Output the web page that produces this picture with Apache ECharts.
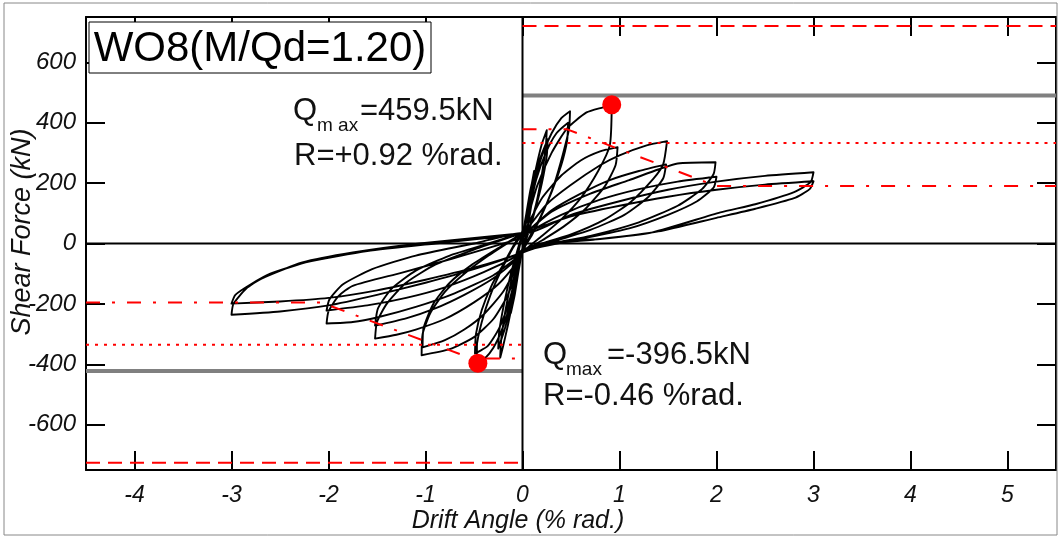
<!DOCTYPE html>
<html>
<head>
<meta charset="utf-8">
<script src="https://cdn.jsdelivr.net/npm/echarts@6/dist/echarts.min.js"></script>
<style>
  html, body { margin: 0; padding: 0; background: #fff; }
  #chart { width: 1060px; height: 537px; }
</style>
</head>
<body>
<div id="chart"></div>
<script>
// tick positions
const xTicks = [-4, -3, -2, -1, 0, 1, 2, 3, 4, 5];
const yTicks = [-600, -400, -200, 0, 200, 400, 600];

// hysteresis loops, one array per cycle [drift %, shear kN]
const cyc0125a = [[0, 0], [0.04, 90], [0.08, 170], [0.12, 240], [0.11, 180], [0.07, 90], [0.03, 20], [0, -20],
  [-0.04, -90], [-0.08, -170], [-0.12, -230], [-0.11, -170], [-0.07, -80], [-0.03, -10], [0, 30]];
const cyc0125b = [[0.04, 100], [0.08, 175], [0.12, 230], [0.11, 170], [0.07, 85], [0.03, 15], [0, -20],
  [-0.04, -85], [-0.08, -165], [-0.12, -220], [-0.11, -165], [-0.07, -75], [-0.03, -5], [0, 30]];
const cyc025a = [[0.05, 100], [0.1, 190], [0.15, 265], [0.2, 330], [0.25, 375], [0.24, 320], [0.2, 230], [0.14, 130], [0.07, 50], [0, -20],
  [-0.05, -100], [-0.1, -190], [-0.15, -270], [-0.2, -340], [-0.23, -378], [-0.22, -320], [-0.18, -230], [-0.12, -130], [-0.06, -40], [0, 35]];
const cyc025b = [[0.06, 105], [0.12, 200], [0.18, 280], [0.26, 345], [0.25, 290], [0.2, 200], [0.13, 110], [0.06, 35], [0, -25],
  [-0.06, -105], [-0.12, -200], [-0.18, -280], [-0.25, -348], [-0.24, -290], [-0.19, -200], [-0.12, -100], [-0.05, -20], [0, 35]];
const cyc05a = [[0.05, 90], [0.12, 200], [0.2, 290], [0.3, 365], [0.4, 415], [0.49, 438], [0.48, 380], [0.42, 300], [0.33, 200], [0.22, 110], [0.1, 30], [0, -25],
  [-0.05, -90], [-0.12, -190], [-0.2, -275], [-0.3, -345], [-0.4, -385], [-0.46, -396.5], [-0.47, -340], [-0.42, -260], [-0.33, -170], [-0.22, -90], [-0.1, -15], [0, 35]];
const cyc05b = [[0.06, 100], [0.14, 210], [0.24, 300], [0.35, 365], [0.47, 400], [0.46, 340], [0.4, 260], [0.3, 170], [0.18, 85], [0.07, 20], [0, -25],
  [-0.06, -95], [-0.14, -195], [-0.24, -280], [-0.36, -340], [-0.49, -364], [-0.48, -300], [-0.42, -220], [-0.32, -140], [-0.2, -70], [-0.08, 0], [0, 40]];
const cyc10a = [[0.05, 80], [0.15, 190], [0.3, 300], [0.46, 381], [0.66, 434], [0.83, 451], [0.92, 459.5], [0.9, 325], [0.78, 240], [0.6, 150], [0.4, 80], [0.2, 25], [0, -30],
  [-0.05, -80], [-0.15, -170], [-0.3, -250], [-0.5, -310], [-0.75, -350], [-1.04, -370], [-1.03, -300], [-0.95, -230], [-0.8, -160], [-0.6, -100], [-0.35, -40], [0, 35]];
const cyc10b = [[0.05, 60], [0.2, 150], [0.4, 225], [0.6, 275], [0.8, 305], [0.98, 319], [0.96, 260], [0.85, 190], [0.65, 115], [0.42, 55], [0.2, 10], [0, -30],
  [-0.05, -70], [-0.2, -160], [-0.4, -235], [-0.6, -285], [-0.8, -320], [-1.03, -344], [-1.02, -280], [-0.92, -200], [-0.75, -130], [-0.52, -70], [-0.25, -15], [0, 35]];
const cyc15a = [[0.05, 50], [0.25, 130], [0.49, 192], [0.8, 259], [1.0, 292], [1.28, 325], [1.49, 339], [1.45, 262], [1.35, 215], [1.11, 136], [0.85, 80], [0.5, 30], [0.2, 0], [0, -30],
  [-0.05, -60], [-0.25, -135], [-0.5, -195], [-0.8, -250], [-1.1, -285], [-1.3, -302], [-1.52, -315], [-1.5, -260], [-1.4, -200], [-1.2, -130], [-0.9, -70], [-0.5, -20], [0, 35]];
const cyc15b = [[0.05, 40], [0.3, 110], [0.6, 165], [0.9, 210], [1.2, 240], [1.48, 262], [1.45, 215], [1.3, 155], [1.05, 95], [0.7, 45], [0.35, 10], [0, -30],
  [-0.05, -50], [-0.3, -115], [-0.6, -170], [-0.9, -215], [-1.2, -248], [-1.52, -272], [-1.49, -215], [-1.35, -150], [-1.1, -90], [-0.75, -40], [-0.35, 0], [0, 35]];
const cyc20a = [[0.05, 40], [0.3, 105], [0.7, 165], [1.1, 210], [1.4, 245], [1.6, 265], [1.99, 269], [1.97, 230], [1.85, 180], [1.6, 125], [1.2, 70], [0.7, 25], [0.3, 0], [0, -30],
  [-0.05, -45], [-0.3, -105], [-0.7, -165], [-1.1, -210], [-1.5, -245], [-1.75, -260], [-2.02, -265], [-2.0, -225], [-1.9, -175], [-1.75, -140], [-1.25, -97], [-0.72, -50], [0, 20]];
const cyc20b = [[0.05, 35], [0.4, 95], [0.8, 145], [1.2, 180], [1.6, 205], [2.0, 221], [1.97, 185], [1.8, 140], [1.5, 95], [1.1, 50], [0.6, 15], [0, -25],
  [-0.05, -40], [-0.4, -95], [-0.8, -145], [-1.2, -180], [-1.6, -205], [-2.02, -222], [-1.99, -185], [-1.85, -135], [-1.55, -85], [-1.1, -40], [-0.5, 0], [0, 35]];
const cyc30a = [[0.05, 35], [0.5, 95], [1.0, 140], [1.5, 178], [2.0, 205], [2.5, 224], [3.0, 236], [2.97, 203], [2.8, 170], [2.4, 130], [2.04, 103], [1.34, 37], [0.8, 15], [0.31, 4], [0, -20],
  [-0.05, -35], [-0.5, -85], [-1.0, -130], [-1.5, -170], [-2.0, -205], [-2.5, -225], [-3.0, -236], [-2.98, -200], [-2.85, -150], [-2.69, -116], [-2.27, -63], [-1.75, -30], [-1.06, 0], [-0.03, 33]];
const cyc30b = [[0.05, 40], [0.5, 90], [1.0, 125], [1.5, 155], [2.0, 178], [2.5, 195], [3.0, 206], [2.96, 180], [2.8, 150], [2.4, 115], [2.0, 85], [1.4, 40], [0.8, 15], [0.3, 0], [0, -20],
  [-0.05, -35], [-0.5, -80], [-1.0, -120], [-1.5, -155], [-2.0, -180], [-2.5, -192], [-3.0, -199], [-2.96, -170], [-2.8, -135], [-2.6, -100], [-2.2, -60], [-1.6, -25], [-0.9, 0], [0, 30]];

// peak points
const peaks = [[0.92, 459.5], [-0.46, -396.5]];

// reference levels
const dashPos = [[0, 720], [5.5, 720]];
const dashNeg = [[-4.5, -726], [0, -726]];
const dotPos = [[0, 333], [5.5, 333]];
const dotNeg = [[-4.5, -335], [0, -335]];
const dashDotPos = [[0, 378], [0.46, 378], [2.0, 190], [5.5, 190]];
const dashDotNeg = [[-4.5, -195], [-2.08, -195], [-0.52, -381], [0, -381]];
const grayPos = [[0, 490], [5.5, 490]];
const grayNeg = [[-4.5, -422], [0, -422]];
const zeroH = [[-4.5, 0], [5.5, 0]];
const zeroV = [[0, -750], [0, 750]];

const loopData = [].concat(cyc0125a, cyc0125b, cyc025a, cyc025b, cyc05a, cyc05b,
  cyc10a, cyc10b, cyc15a, cyc15b, cyc20a, cyc20b, cyc30a, cyc30b);

const FONT = "'Liberation Sans', Arial, sans-serif";
const chart = echarts.init(document.getElementById('chart'));

function refLine(data, color, width, type, z) {
  return {
    type: 'line', data: data, symbol: 'none', silent: true, z: z,
    lineStyle: { color: color, width: width, type: type }
  };
}

const axisCommon = {
  type: 'value',
  splitLine: { show: false },
  axisLine: { onZero: false, lineStyle: { color: '#000', width: 2 } },
  axisTick: { inside: true, length: 19, lineStyle: { color: '#000', width: 2 } }
};

const option = {
  animation: false,
  grid: { left: 86, right: 4, top: 17, bottom: 67 },
  xAxis: [
    Object.assign({}, axisCommon, {
      min: -4.5, max: 5.5, position: 'bottom',
      axisTick: Object.assign({}, axisCommon.axisTick, { customValues: xTicks }),
      axisLabel: { customValues: xTicks, fontFamily: FONT, fontStyle: 'italic', fontSize: 23, color: '#111', margin: 14 }
    }),
    Object.assign({}, axisCommon, {
      min: -4.5, max: 5.5, position: 'top',
      axisTick: Object.assign({}, axisCommon.axisTick, { customValues: xTicks }),
      axisLabel: { show: false }
    })
  ],
  yAxis: [
    Object.assign({}, axisCommon, {
      min: -750, max: 750, position: 'left',
      axisTick: Object.assign({}, axisCommon.axisTick, { customValues: yTicks }),
      axisLabel: { customValues: yTicks, fontFamily: FONT, fontStyle: 'italic', fontSize: 24, color: '#111', margin: 10 }
    }),
    Object.assign({}, axisCommon, {
      min: -750, max: 750, position: 'right',
      axisTick: Object.assign({}, axisCommon.axisTick, { customValues: yTicks }),
      axisLabel: { show: false }
    })
  ],
  series: [
    refLine(grayPos, '#808080', 4, 'solid', 2),
    refLine(grayNeg, '#808080', 4, 'solid', 2),
    refLine(zeroH, '#000', 2, 'solid', 2),
    refLine(zeroV, '#000', 2, 'solid', 2),
    {
      type: 'line', data: loopData, symbol: 'none', silent: true, z: 3, smooth: 0.2,
      lineStyle: { color: '#000', width: 1.9, join: 'round' }
    },
    refLine(dashPos, '#ff0000', 2, [14, 8], 4),
    refLine(dashNeg, '#ff0000', 2, [14, 8], 4),
    refLine(dotPos, '#ff0000', 2, [3, 6], 4),
    refLine(dotNeg, '#ff0000', 2, [3, 6], 4),
    refLine(dashDotPos, '#ff0000', 2, [14, 12, 3, 12], 4),
    refLine(dashDotNeg, '#ff0000', 2, [14, 12, 3, 12], 4),
    {
      type: 'scatter', data: peaks, symbol: 'circle', symbolSize: 19, z: 5,
      itemStyle: { color: '#ff0000', opacity: 1 }
    }
  ],
  graphic: [
    { type: 'rect', z: 100, shape: { x: 4, y: 3, width: 1053, height: 532 },
      style: { fill: 'none', stroke: '#888', lineWidth: 1 } },
    { type: 'rect', z: 100, shape: { x: 89, y: 22, width: 342, height: 51 },
      style: { fill: '#fff', stroke: '#000', lineWidth: 1 } },
    { type: 'text', z: 101, style: { x: 260, y: 49, text: 'WO8(M/Qd=1.20)', font: '42px ' + FONT,
      fill: '#000', align: 'center', verticalAlign: 'middle' } },
    { type: 'text', z: 101, style: { x: 293, y: 111, text: 'Q', font: '31px ' + FONT, fill: '#111', verticalAlign: 'middle' } },
    { type: 'text', z: 101, style: { x: 317, y: 126, text: 'm ax', font: '19px ' + FONT, fill: '#111', verticalAlign: 'middle' } },
    { type: 'text', z: 101, style: { x: 360, y: 111, text: '=459.5kN', font: '31px ' + FONT, fill: '#111', verticalAlign: 'middle' } },
    { type: 'text', z: 101, style: { x: 294, y: 156, text: 'R=+0.92 %rad.', font: '31px ' + FONT, fill: '#111', verticalAlign: 'middle' } },
    { type: 'text', z: 101, style: { x: 543, y: 355, text: 'Q', font: '31px ' + FONT, fill: '#111', verticalAlign: 'middle' } },
    { type: 'text', z: 101, style: { x: 566, y: 370, text: 'max', font: '19px ' + FONT, fill: '#111', verticalAlign: 'middle' } },
    { type: 'text', z: 101, style: { x: 607, y: 355, text: '=-396.5kN', font: '31px ' + FONT, fill: '#111', verticalAlign: 'middle' } },
    { type: 'text', z: 101, style: { x: 543, y: 396, text: 'R=-0.46 %rad.', font: '31px ' + FONT, fill: '#111', verticalAlign: 'middle' } },
    { type: 'text', z: 101, style: { x: 518, y: 521, text: 'Drift Angle (% rad.)', font: 'italic 25px ' + FONT,
      fill: '#111', align: 'center', verticalAlign: 'middle' } },
    { type: 'text', z: 101, x: 22, y: 232, rotation: Math.PI / 2,
      style: { x: 0, y: 0, text: 'Shear Force (kN)', font: 'italic 27px ' + FONT,
        fill: '#111', align: 'center', verticalAlign: 'middle' } }
  ]
};

chart.setOption(option);
</script>
</body>
</html>
